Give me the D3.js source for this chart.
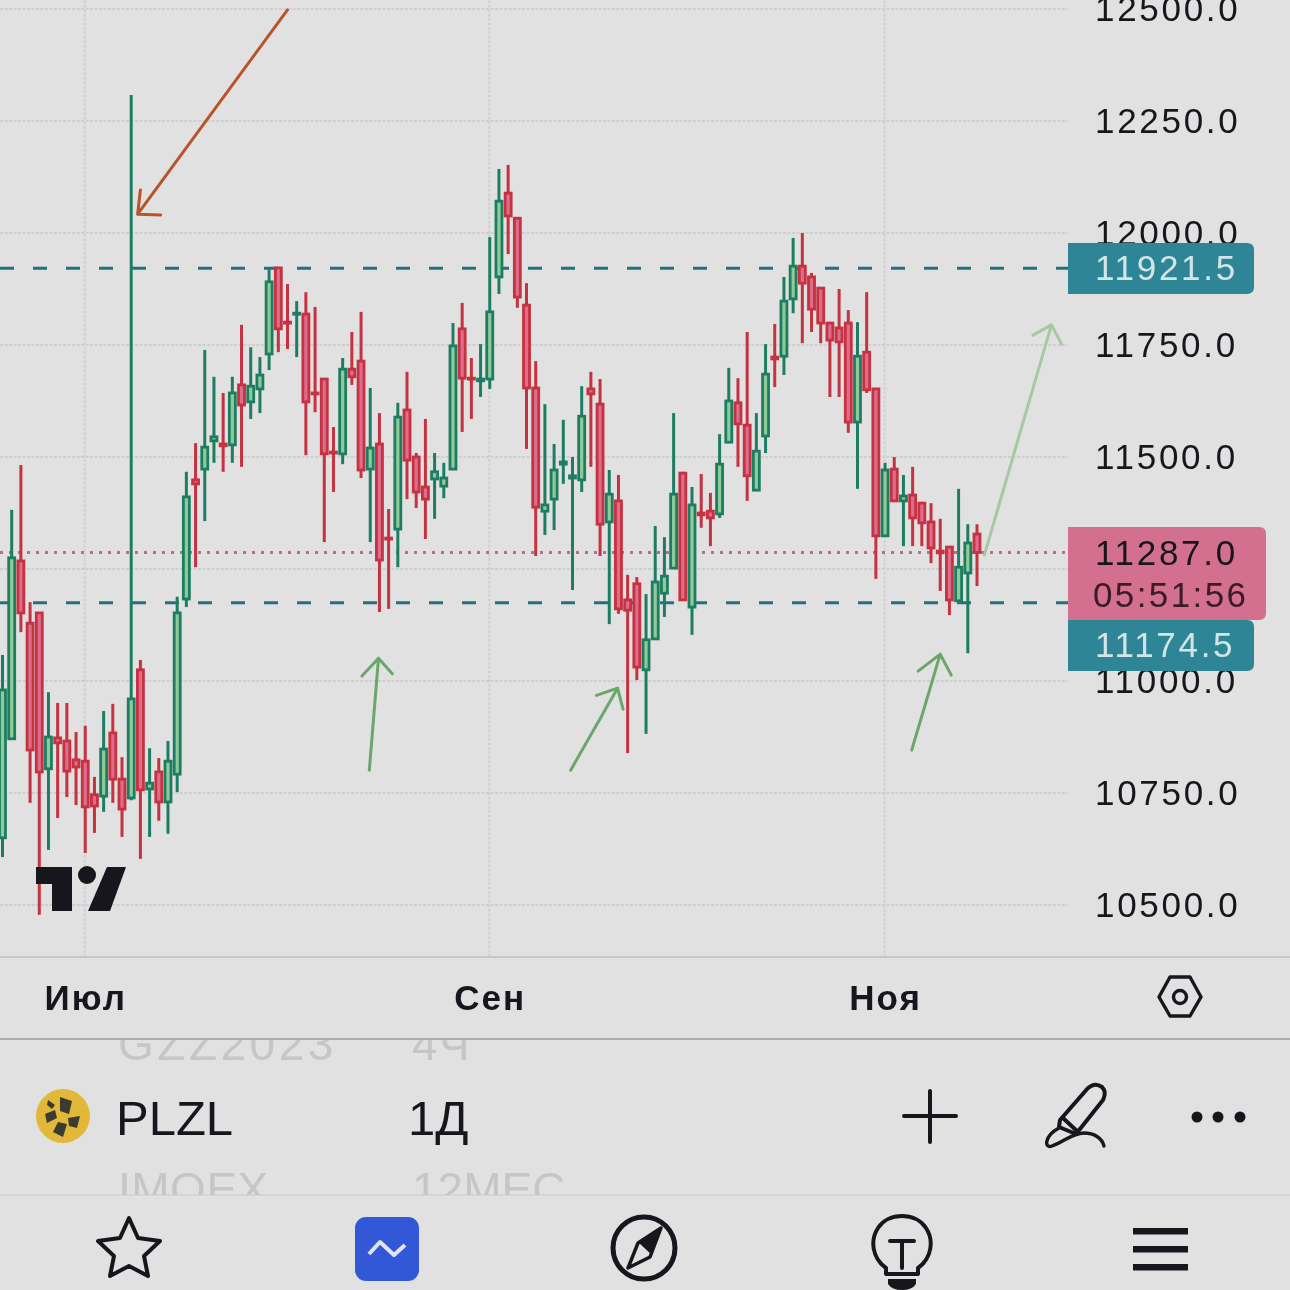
<!DOCTYPE html>
<html><head><meta charset="utf-8">
<script src="https://cdn.jsdelivr.net/npm/d3@7/dist/d3.min.js"></script>
<style>html,body{margin:0;padding:0;background:#e1e1e1;overflow:hidden}svg{display:block}</style>
</head><body><svg id="c" width="1290" height="1290"></svg>
<script>
// candle index 0..106 (daily PLZL)
const opens=[10650,10871,11268,11129,11152,10804,10873,10866,10824,10821,10746,10743,10884,10781,10739,11025,10759,10797,10730,10792,11183,11449,11473,11536,11529,11527,11661,11623,11652,11730,11922,11801,11819,11819,11643,11674,11511,11507,11696,11714,11473,11529,11319,11339,11605,11500,11433,11451,11435,11473,11786,11676,11670,11674,11902,12089,12033,11839,11654,11379,11406,11484,11453,11449,11652,11618,11355,11402,11181,11217,11025,11094,11196,11252,11464,11165,11375,11379,11373,11533,11621,11571,11426,11547,11723,11725,11853,11926,11902,11877,11799,11788,11799,11578,11734,11652,11324,11473,11402,11415,11397,11355,11290,11299,11179,11241,11328];
const closes=[10980,11275,11152,10846,10797,10875,10862,10799,10808,10719,10721,10848,10781,10714,10960,10757,10772,10730,10821,11152,11411,11440,11522,11545,11525,11643,11616,11658,11683,11891,11786,11799,11821,11623,11641,11507,11509,11696,11679,11471,11520,11270,11317,11589,11493,11422,11406,11467,11453,11748,11676,11674,11674,11824,12071,12038,11857,11654,11388,11393,11471,11489,11458,11591,11641,11350,11417,11161,11158,11031,11092,11221,11234,11417,11181,11393,11371,11364,11484,11625,11574,11458,11513,11685,11719,11848,11926,11888,11830,11799,11761,11757,11578,11725,11650,11324,11471,11402,11413,11364,11353,11297,11286,11181,11254,11308,11287];
const highs=[11058,11382,11482,11176,11152,10975,10951,10951,10886,10900,10786,10933,10949,10830,12308,11047,10850,10828,10866,11188,11467,11531,11739,11679,11643,11679,11795,11745,11723,11924,11924,11886,11848,11868,11835,11674,11567,11721,11779,11824,11654,11598,11384,11621,11690,11509,11585,11509,11487,11799,11844,11721,11752,11991,12143,12152,12033,11888,11714,11618,11529,11583,11500,11658,11690,11674,11471,11460,11237,11232,11194,11346,11321,11598,11467,11433,11462,11420,11551,11699,11676,11779,11598,11752,11797,11902,11989,12000,11911,11877,11801,11875,11828,11801,11868,11654,11487,11500,11460,11478,11400,11397,11362,11299,11429,11350,11350];
const lows=[10607,10871,11109,10728,10478,10623,10694,10741,10723,10616,10661,10708,10728,10652,10734,10603,10652,10688,10659,10752,11165,11254,11357,11487,11467,11487,11478,11585,11598,11694,11734,11741,11723,11504,11600,11310,11422,11484,11661,11453,11310,11154,11161,11254,11406,11386,11317,11362,11408,11473,11556,11585,11634,11652,11864,11953,11833,11518,11279,11326,11337,11440,11203,11422,11478,11279,11127,11150,10839,11002,10882,11094,11143,11252,11181,11103,11342,11301,11364,11533,11478,11402,11426,11509,11656,11683,11821,11754,11779,11754,11634,11634,11554,11429,11643,11228,11324,11402,11301,11301,11301,11263,11201,11147,11174,11062,11212];
const priceTicks=[10500,10750,11000,11250,11500,11750,12000,12250,12500];
const labelledTicks=[10500,10750,11000,11500,11750,12000,12250,12500];
const monthIdx=[9,53,96];
const monthLabels=["Июл","Сен","Ноя"];
const levels=[11921.5,11174.5];
const lastPrice=11287.0;
const countdown="05:51:56";
// annotation arrows, [candle index, price]: tail, tip, barb, barb
const arrows=[
 {c:"#b9532b",p:[[31.0,12498],[14.7,12042],[17.2,12040],[15.0,12096]]},
 {c:"#6aa76a",p:[[39.9,10801],[40.9,11051],[39.1,11011],[42.4,11016]]},
 {c:"#6aa76a",p:[[61.8,10801],[66.9,10984],[64.6,10968],[67.5,10937]]},
 {c:"#6aa76a",p:[[98.9,10846],[102,11060],[99.6,11022],[103.2,11013]]},
 {c:"#a6c9a3",p:[[106.8,11281],[114.1,11795],[112.1,11772],[115.2,11752]]}
];

const svg=d3.select("#c");
const W=1290,H=1290,chartR=1068,chartB=957;
const x=d3.scaleLinear().domain([0,106]).range([2.5,977]);
const y=d3.scaleLinear().domain([10500,12500]).range([905,9]);
const INK="#17171d",FONT="'Liberation Sans',Arial,sans-serif";
const defs=svg.append("defs");
const soft=defs.append("filter").attr("id","soft").attr("filterUnits","userSpaceOnUse").attr("x",0).attr("y",0).attr("width",W).attr("height",H);
soft.append("feGaussianBlur").attr("stdDeviation",0.45);

const root=svg.append("g").attr("filter","url(#soft)");
root.append("rect").attr("width",W).attr("height",H).attr("fill","#e1e1e1");

// grid
const grid=root.append("g").attr("fill","none").attr("stroke","#cfcfd1").attr("stroke-width",1.8).attr("stroke-dasharray","3 1.5");
grid.selectAll("line.h").data(priceTicks).join("line").attr("x1",0).attr("x2",chartR).attr("y1",d=>y(d)).attr("y2",d=>y(d));
grid.selectAll("line.v").data(monthIdx).join("line").attr("x1",d=>x(d)-0.5).attr("x2",d=>x(d)-0.5).attr("y1",0).attr("y2",chartB);

// levels
root.append("g").selectAll("line").data(levels).join("line").attr("x1",0).attr("x2",chartR)
 .attr("y1",d=>y(d)).attr("y2",d=>y(d)).attr("stroke","#23717f").attr("stroke-width",3).attr("stroke-dasharray","14 19");
root.append("line").attr("x1",0).attr("x2",chartR).attr("y1",y(lastPrice)).attr("y2",y(lastPrice))
 .attr("stroke","#b76f88").attr("stroke-width",3).attr("stroke-dasharray","3 6");

// candles
const idx=d3.range(opens.length);
const up=i=>closes[i]>=opens[i];
const g=root.append("g");
g.selectAll("line").data(idx).join("line").attr("x1",i=>x(i)).attr("x2",i=>x(i))
 .attr("y1",i=>y(highs[i])).attr("y2",i=>y(lows[i])).attr("stroke-width",3)
 .attr("stroke",i=>up(i)?"#1f7d62":"#c5303f");
g.selectAll("rect").data(idx).join("rect").attr("x",i=>x(i)-3).attr("width",6)
 .attr("y",i=>Math.min(y(opens[i]),y(closes[i]))).attr("height",i=>Math.max(1,Math.abs(y(opens[i])-y(closes[i]))))
 .attr("fill",i=>up(i)?"#8fcb98":"#de6c8d").attr("stroke",i=>up(i)?"#1f7d62":"#c5303f").attr("stroke-width",2.8);

// arrows
const lg=root.append("g").attr("fill","none").attr("stroke-width",3).attr("stroke-linecap","round").attr("stroke-linejoin","round");
arrows.forEach(a=>{
  const P=a.p.map(d=>[x(d[0]),y(d[1])]);
  lg.append("path").attr("stroke",a.c).attr("d",d3.line()([P[0],P[1]])+d3.line()([P[2],P[1],P[3]]));
});

// TV logo
const logo=root.append("g").attr("fill","#14141a");
logo.append("path").attr("d","M36 867H72V911H52V884H36Z");
logo.append("circle").attr("cx",87).attr("cy",875).attr("r",9);
logo.append("path").attr("d","M107 867H126L110 911H88Z");

// axes
root.append("rect").attr("x",chartR).attr("y",0).attr("width",W-chartR).attr("height",chartB).attr("fill","#e1e1e1");
const yAxis=d3.axisRight(y).tickValues(labelledTicks).tickSize(0).tickPadding(0).tickFormat(d3.format(".1f"));
const ya=root.append("g").attr("transform","translate(1095,0)").call(yAxis);
ya.select(".domain").remove();
ya.selectAll("text").attr("font-family",FONT).attr("font-size",35).attr("letter-spacing",2.7).attr("fill",INK).attr("dy","0.33em");

const xAxis=d3.axisBottom(x).tickValues(monthIdx).tickSize(0).tickPadding(0).tickFormat((d,i)=>monthLabels[i]);
const xa=root.append("g").attr("transform","translate(0,1010)").call(xAxis);
xa.select(".domain").remove();
xa.selectAll("text").attr("font-family",FONT).attr("font-size",35).attr("letter-spacing",2).attr("font-weight",700).attr("fill",INK).attr("dy",0).attr("y",0);

// price tags
function tag(yTop,h,w,fill,col,lines){
  const r=7;
  root.append("path").attr("fill",fill).attr("d",`M${chartR} ${yTop}H${chartR+w-r}Q${chartR+w} ${yTop} ${chartR+w} ${yTop+r}V${yTop+h-r}Q${chartR+w} ${yTop+h} ${chartR+w-r} ${yTop+h}H${chartR}Z`);
  lines.forEach(l=>root.append("text").attr("x",l.x).attr("y",l.y).attr("font-family",FONT).attr("font-size",35).attr("letter-spacing",l.ls).attr("fill",l.c||col).text(l.t));
}
const fmt=d3.format(".1f");
tag(620,51,186,"#2f8596","#d3e4e6",[{x:1095,y:657,ls:2.7,t:fmt(levels[1])}]);
tag(243,51,186,"#2f8596","#d3e4e6",[{x:1095,y:280,ls:2.7,t:fmt(levels[0])}]);
tag(527,93,198,"#d4708f",INK,[{x:1095,y:565,ls:2.7,t:fmt(lastPrice)},{x:1093,y:607,ls:2.4,t:countdown,c:"#3a1a28"}]);

// separators
const sep=(yy,c,w)=>root.append("line").attr("x1",0).attr("x2",W).attr("y1",yy).attr("y2",yy).attr("stroke",c).attr("stroke-width",w);
sep(957,"#c6c6cc",2);sep(1039,"#aeaeb2",2);sep(1195,"#d2d2d4",1.5);

// settings hexagon
const ic=root.append("g").attr("fill","none").attr("stroke",INK).attr("stroke-width",3.4).attr("stroke-linejoin","round");
ic.append("path").attr("d","M1170 977H1190L1201 997L1190 1016H1170L1159 997Z");
ic.append("circle").attr("cx",1180).attr("cy",997).attr("r",6.5);

// symbol rows
root.append("clipPath").attr("id","list").append("rect").attr("x",0).attr("y",1040).attr("width",W).attr("height",155);
const list=root.append("g").attr("clip-path","url(#list)").attr("font-family",FONT).attr("font-size",46);
[["GZZ2023",118,1060,3.5],["4Ч",412,1060,1.5],["IMOEX",118,1205,0.5],["12МЕС",412,1205,0]].forEach(d=>
  list.append("text").attr("x",d[1]).attr("y",d[2]).attr("fill","#c6c6c8").attr("letter-spacing",d[3]).text(d[0]));
root.append("circle").attr("cx",63).attr("cy",1116).attr("r",27).attr("fill","#e2b838");
const em=root.append("g").attr("fill","#3b3a32");
["M60 1097L72 1101L69 1114L60 1111Z","M68 1118L80 1116L77 1128L69 1126Z","M58 1122L67 1124L63 1137L53 1132Z","M45 1114L55 1110L57 1118L47 1123Z","M48 1100L55 1105L52 1109L47 1105Z"].forEach(d=>em.append("path").attr("d",d));
root.append("text").attr("x",116).attr("y",1135).attr("font-family",FONT).attr("font-size",49).attr("fill",INK).text("PLZL");
root.append("text").attr("x",408).attr("y",1135).attr("font-family",FONT).attr("font-size",49).attr("fill",INK).text("1Д");

// toolbar icons
const t=root.append("g").attr("fill","none").attr("stroke",INK).attr("stroke-width",4).attr("stroke-linejoin","round").attr("stroke-linecap","round");
t.append("path").attr("d","M930 1091V1142M904 1116H956");
t.append("path").attr("d","M1088 1088Q1095 1082 1102 1087Q1107 1092 1103 1100L1076 1134L1059 1127L1060 1120Z M1063 1118L1078 1132");
t.append("path").attr("stroke-width",3.4).attr("d","M1059 1128C1044 1136 1044 1149 1052 1146C1064 1142 1072 1133 1084 1133C1094 1133 1102 1138 1104 1146");
root.append("g").attr("fill",INK).selectAll("circle").data([1197,1218,1240]).join("circle").attr("cx",d=>d).attr("cy",1117).attr("r",5.5);
t.append("path").attr("d","M129 1218L138 1238L160 1241L144 1256L148 1276L129 1266L110 1276L114 1256L98 1241L120 1238Z");
root.append("rect").attr("x",355).attr("y",1217).attr("width",64).attr("height",64).attr("rx",11).attr("fill","#3358d8");
root.append("path").attr("d","M369 1254L380 1242L394 1255L405 1245").attr("fill","none").attr("stroke","#dfe4f4").attr("stroke-width",4).attr("stroke-linejoin","round");
t.append("circle").attr("cx",644).attr("cy",1248).attr("r",31).attr("stroke-width",5);
root.append("path").attr("d","M661 1228L652 1255L639 1243Z").attr("fill",INK);
t.append("path").attr("stroke-width",3.5).attr("d","M661 1228L650 1257L628 1268L638 1243Z");
t.append("path").attr("d","M886 1268C872 1258 870 1240 878 1228C888 1212 916 1212 926 1228C934 1240 932 1258 918 1268V1274H886Z M890 1241H914M902 1241V1268");
root.append("path").attr("d","M888 1279H916V1284Q912 1290 902 1290Q892 1290 888 1284Z").attr("fill",INK);
root.append("g").attr("fill",INK).selectAll("rect").data([1228,1246,1264]).join("rect").attr("x",1133).attr("width",55).attr("y",d=>d).attr("height",6.5);
</script></body></html>
